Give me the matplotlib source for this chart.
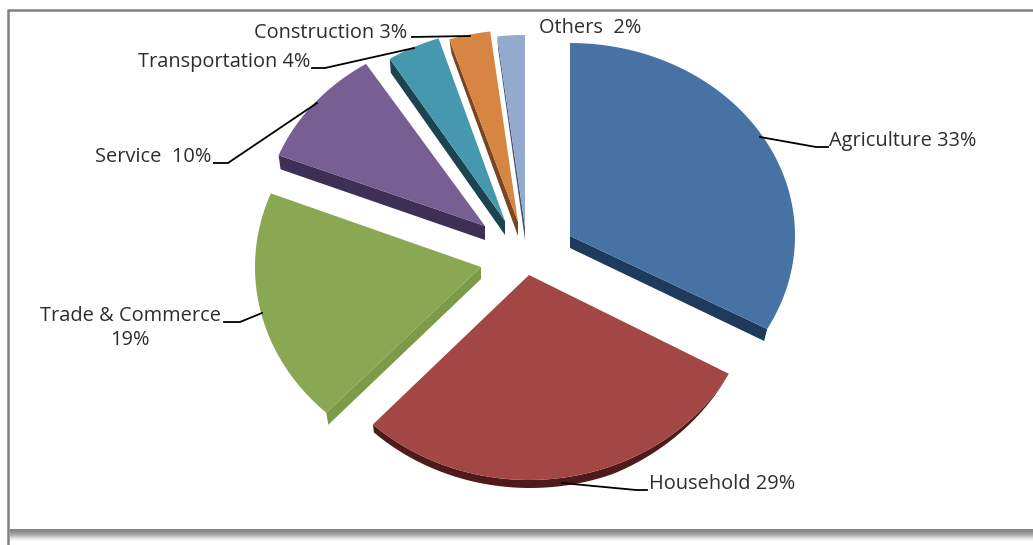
import matplotlib
matplotlib.use("Agg")
import matplotlib.pyplot as plt
from matplotlib.patches import Polygon
import numpy as np

plt.rcParams["font.family"] = ["Open Sans", "DejaVu Sans"]

# data, clockwise from the top
names = ["Agriculture", "Household", "Trade & Commerce", "Service", "Transportation", "Construction", "Others"]
shares = [33, 29, 19, 10, 4, 3, 2]
labels = ["Agriculture 33%", "Household 29%", "Trade & Commerce\n19%", "Service  10%",
          "Transportation 4%", "Construction 3%", "Others  2%"]

# look of the slices
top_colors = ["#4672A4", "#A34745", "#8AA853", "#775E93", "#4698AF", "#D68642", "#93A9CE"]
wall_colors = ["#1E3A5C", "#4E1B1A", "#7D9A49", "#3F2F56", "#1B4450", "#7A4520", "#4A5570"]
apex = [(570, 236), (529, 275), (481, 267), (485, 226), (505, 221), (518, 222), (525, 227)]
radius_x = [225, 228, 226, 222, 215, 222, 222]
radius_y = [193, 205, 200, 192, 192, 192, 192]
# which side of the slice shows a wall, and how far it drops
wall_side = ["end", "arc", "start", "start", "start", "start", "start"]
wall_drop = [(-3, 12), (1, 8), (2, 12), (2, 14), (1, 14), (2, 14), (1, 13)]

# label text: x, y, horizontal alignment
label_pos = [(829, 141, "left"), (649, 484, "left"), (130, 328, "center"), (95, 157, "left"),
             (138, 62, "left"), (254, 33, "left"), (539, 28, "left")]
# leader lines
leaders = [[(760, 137), (816, 147), (828, 147)],
           [(562, 483), (636, 490), (647, 490)],
           [(262, 313), (240, 322), (224, 322)],
           [(317, 103), (228, 163), (214, 163)],
           [(414, 48), (325, 68), (312, 68)],
           [(470, 36), (412, 37)]]
# shadow under the frame, one gray per pixel row from y=529
shadow_grays = ["#858585", "#878787", "#8B8B8B", "#929292", "#9C9C9C", "#A8A8A8",
                "#B6B6B6", "#C6C6C6", "#D6D6D6", "#E4E4E4", "#F0F0F0", "#F9F9F9"]


def edge_point(i, theta):
    """Point on the rim of slice i, theta in degrees clockwise from the top."""
    t = np.radians(theta)
    return apex[i][0] + radius_x[i] * np.sin(t), apex[i][1] - radius_y[i] * np.cos(t)


fig = plt.figure(figsize=(10.33, 5.45), dpi=100)
ax = fig.add_axes([0, 0, 1, 1])

# frame and its shadow
for row, gray in enumerate(shadow_grays):
    ax.fill_between([10, 1033], 529 + row, 530 + row, color=gray, lw=0, zorder=1)
ax.plot([8, 8], [545, 10], color="#808080", lw=1.8, zorder=2, solid_capstyle="butt")
ax.plot([7, 1033], [10, 10], color="#808080", lw=1.8, zorder=2, solid_capstyle="butt")

# slices
cuts = np.cumsum([0] + shares) * 3.6
for i in range(len(shares)):
    a0, a1 = cuts[i], cuts[i + 1]
    arc = np.linspace(a0, a1, 80)
    rim = np.array([edge_point(i, a) for a in arc])
    dx, dy = wall_drop[i]
    tip = np.array(apex[i], dtype=float)
    if wall_side[i] == "arc":
        taper = np.clip((arc - a0) / 40, 0, 1)[:, None]
        low = rim + taper * np.array([dx, dy])
        wall = np.vstack([rim, low[::-1]])
    else:
        p = rim[-1] if wall_side[i] == "end" else rim[0]
        wall = np.array([tip, p, p + (dx, dy), tip + (0, dy)])
    ax.add_patch(Polygon(wall, closed=True, fc=wall_colors[i], ec="none", zorder=3))
    ax.add_patch(Polygon(np.vstack([tip, rim]), closed=True, fc=top_colors[i], ec="none", zorder=4))

for line in leaders:
    xs, ys = zip(*line)
    ax.plot(xs, ys, color="black", lw=1.3, zorder=5)

for lab, (x, y, ha) in zip(labels, label_pos):
    ax.text(x, y, lab, ha=ha, va="center", fontsize=14.4, color="#2E2E2E", zorder=6, linespacing=1.3)

ax.set_xlim(0, 1033)
ax.set_ylim(545, 0)
ax.axis("off")
fig.savefig("out.png", dpi=100)
